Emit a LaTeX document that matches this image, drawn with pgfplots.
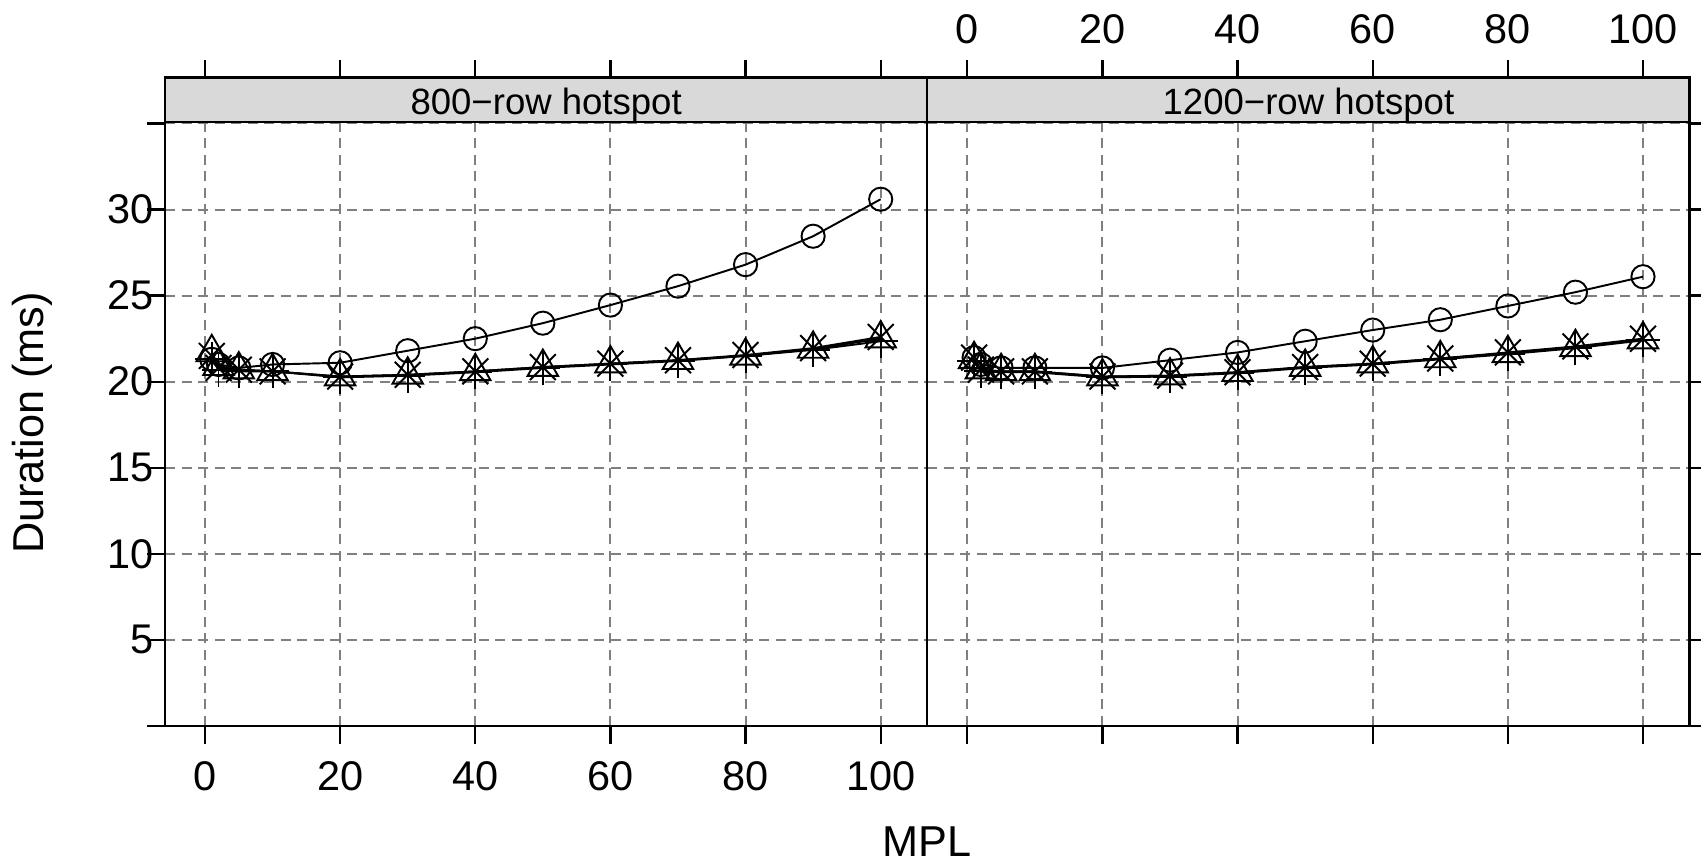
\documentclass[border=0pt]{standalone}
\usepackage{fontspec}
\setmainfont{Liberation Sans}
\usepackage{pgfplots}
\pgfplotsset{compat=1.18}

\newcommand{\tickfont}{\fontsize{11.8}{13}\selectfont}
\newcommand{\labfont}{\fontsize{12.3}{14}\selectfont}
\newcommand{\stripfont}{\fontsize{10.4}{12}\selectfont}

\pgfplotsset{
  panel/.style={
    scale only axis, width=7.623cm, height=6.037cm,
    xmin=-5.92, xmax=106.9, ymin=0, ymax=35.07,
    xtick={0,20,...,100}, ytick={0,5,...,35},
    grid=major,
    major grid style={gray, line width=0.55pt, dash pattern=on 0.1cm off 0.065cm},
    tick align=outside, major tick length=0.18cm,
    axis line style={line width=0.65pt},
    tick style={black, line width=0.65pt},
    tick label style={font=\tickfont},
    /pgf/number format/assume math mode=true,
    xtick pos=left,
    clip=false,
    xticklabel style={yshift=-0.05cm},
    yticklabel style={xshift=0.19cm},
  },
  ser/.style={black, line width=0.55pt, mark options={solid, line width=0.55pt}},
  sc/.style={ser, mark=o, mark size=3.3pt},
  st/.style={ser, mark=triangle, mark size=5pt},
  sp/.style={ser, mark=+, mark size=4.8pt},
  sx/.style={ser, mark=x, mark size=5.2pt},
}

% 800-row hotspot
\pgfplotstableread{
x   circ  tri   plus  cross
1   21.3  21.7  21.3  21.5
2   21.0  20.9  20.7  20.8
5   20.8  20.7  20.6  20.7
10  21.0  20.6  20.6  20.6
20  21.1  20.3  20.25 20.3
30  21.8  20.4  20.35 20.4
40  22.5  20.6  20.55 20.6
50  23.4  20.85 20.8  20.85
60  24.45 21.05 21.0  21.05
70  25.55 21.25 21.2  21.25
80  26.8  21.5  21.5  21.55
90  28.45 21.9  21.85 21.95
100 30.6  22.5  22.35 22.6
}\leftdata

% 1200-row hotspot
\pgfplotstableread{
x   circ  tri   plus  cross
1   21.4  21.3  21.2  21.4
2   21.0  20.7  20.6  20.7
5   20.8  20.6  20.55 20.6
10  20.8  20.6  20.55 20.6
20  20.8  20.3  20.25 20.3
30  21.25 20.35 20.3  20.35
40  21.7  20.55 20.5  20.55
50  22.35 20.85 20.8  20.85
60  23.0  21.05 21.0  21.05
70  23.6  21.35 21.3  21.35
80  24.4  21.65 21.6  21.7
90  25.2  22.0  21.95 22.05
100 26.1  22.45 22.4  22.5
}\rightdata

\begin{document}
\begin{tikzpicture}
\begin{axis}[panel, at={(1.65cm,1.38cm)}, anchor=south west,
  ytick pos=left, yticklabels={,5,10,15,20,25,30,}]
  \addplot[sc] table[x=x,y=circ]{\leftdata};
  \addplot[st] table[x=x,y=tri]{\leftdata};
  \addplot[sp] table[x=x,y=plus]{\leftdata};
  \addplot[sx] table[x=x,y=cross]{\leftdata};
  \filldraw[fill=black!15, line width=0.65pt] (rel axis cs:0,1) rectangle ([yshift=0.447cm]rel axis cs:1,1);
  \node[font=\stripfont, anchor=base] at ([yshift=0.08cm]rel axis cs:0.5,1) {800−row hotspot};
  \pgfplotsinvokeforeach{0,20,...,100}{
    \draw[line width=0.65pt] ([yshift=0.447cm]axis cs:#1,35.07) -- ([yshift=0.622cm]axis cs:#1,35.07);
  }
\end{axis}
\begin{axis}[panel, at={(9.273cm,1.38cm)}, anchor=south west,
  ytick pos=right, yticklabels={}, xticklabels={}]
  \addplot[sc] table[x=x,y=circ]{\rightdata};
  \addplot[st] table[x=x,y=tri]{\rightdata};
  \addplot[sp] table[x=x,y=plus]{\rightdata};
  \addplot[sx] table[x=x,y=cross]{\rightdata};
  \filldraw[fill=black!15, line width=0.65pt] (rel axis cs:0,1) rectangle ([yshift=0.447cm]rel axis cs:1,1);
  \node[font=\stripfont, anchor=base] at ([yshift=0.08cm]rel axis cs:0.5,1) {1200−row hotspot};
  \pgfplotsinvokeforeach{0,20,...,100}{
    \draw[line width=0.65pt] ([yshift=0.447cm]axis cs:#1,35.07) -- ([yshift=0.622cm]axis cs:#1,35.07);
    \node[font=\tickfont] at ([yshift=0.93cm]axis cs:#1,35.07) {#1};
  }
\end{axis}
\node[font=\labfont, rotate=90] at (0.325cm,4.41cm) {Duration (ms)};
\node[font=\labfont] at (9.27cm,0.22cm) {MPL};
\pgfresetboundingbox
\path[use as bounding box] (0,0) rectangle (17.01cm,8.64cm);
\end{tikzpicture}
\end{document}
